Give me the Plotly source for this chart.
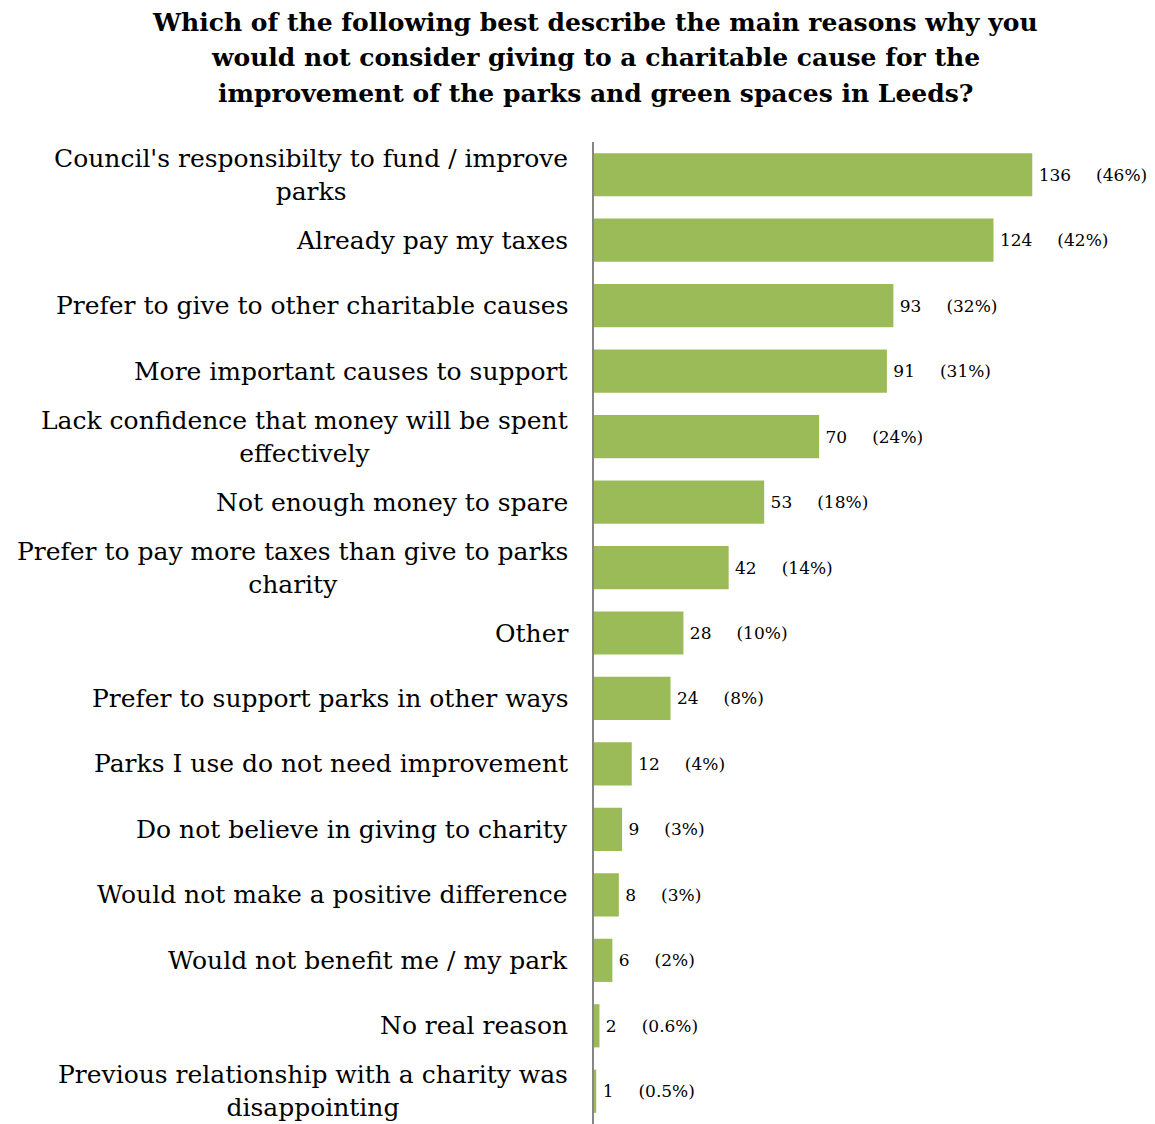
import plotly.graph_objects as go

categories = [
    "Council's responsibilty to fund / improve<br>parks",
    "Already pay my taxes",
    "Prefer to give to other charitable causes",
    "More important causes to support",
    "Lack confidence that money will be spent<br>effectively",
    "Not enough money to spare",
    "Prefer to pay more taxes than give to parks<br>charity",
    "Other",
    "Prefer to support parks in other ways",
    "Parks I use do not need improvement",
    "Do not believe in giving to charity",
    "Would not make a positive difference",
    "Would not benefit me / my park",
    "No real reason",
    "Previous relationship with a charity was<br>disappointing",
]
counts = [136, 124, 93, 91, 70, 53, 42, 28, 24, 12, 9, 8, 6, 2, 1]
pcts = ["46%", "42%", "32%", "31%", "24%", "18%", "14%", "10%", "8%", "4%", "3%", "3%", "2%", "0.6%", "0.5%"]

title_lines = [
    "Which of the following best describe the main reasons why you",
    "would not consider giving to a charitable cause for the",
    "improvement of the parks and green spaces in Leeds?",
]

SERIF = "DejaVu Serif"
# page has an 8px body margin: figure is sized/positioned to compensate
W, H = 1147, 1116
L, T = 585, 134
PH = H - T
PW = W - L

nb = "\u00a0"
th = "\u2009"
labels = [f"{th}{c}{nb * 4}{th}({p})" for c, p in zip(counts, pcts)]
ids = list(range(len(categories)))

fig = go.Figure(go.Bar(
    x=counts, y=ids, orientation="h",
    marker=dict(color="#9BBB59", line=dict(width=0)),
    width=0.66,
    text=labels, textposition="outside",
    textfont=dict(family=SERIF, size=17, color="#000000"),
    cliponaxis=False,
))

for i, cat in enumerate(categories):
    fig.add_annotation(
        x=(562 - L) / PW, xref="paper", y=i, yref="y",
        text=cat, showarrow=False, xanchor="right", yanchor="middle",
        align="center", font=dict(family=SERIF, size=25, color="#000000"),
    )

for k, line in enumerate(title_lines):
    py = 14 + 36 * k
    fig.add_annotation(
        x=(587 - L) / PW, xref="paper", y=(H - py) / PH, yref="paper",
        text=f"<b>{line}</b>", showarrow=False, xanchor="center", yanchor="middle",
        font=dict(family=SERIF, size=25, color="#000000"),
    )

fig.update_layout(
    width=W, height=H,
    margin=dict(l=L, r=0, t=T, b=0),
    paper_bgcolor="white", plot_bgcolor="white",
    showlegend=False,
    xaxis=dict(range=[0, 174], visible=False, fixedrange=True),
    yaxis=dict(range=[14.5, -0.5], showticklabels=False, showgrid=False,
               zeroline=False, showline=False, ticks=""),
    shapes=[dict(type="line", xref="paper", yref="paper", x0=0, x1=0, y0=0, y1=1,
                 line=dict(color="#868686", width=2))],
)

fig.write_html("out.html")
